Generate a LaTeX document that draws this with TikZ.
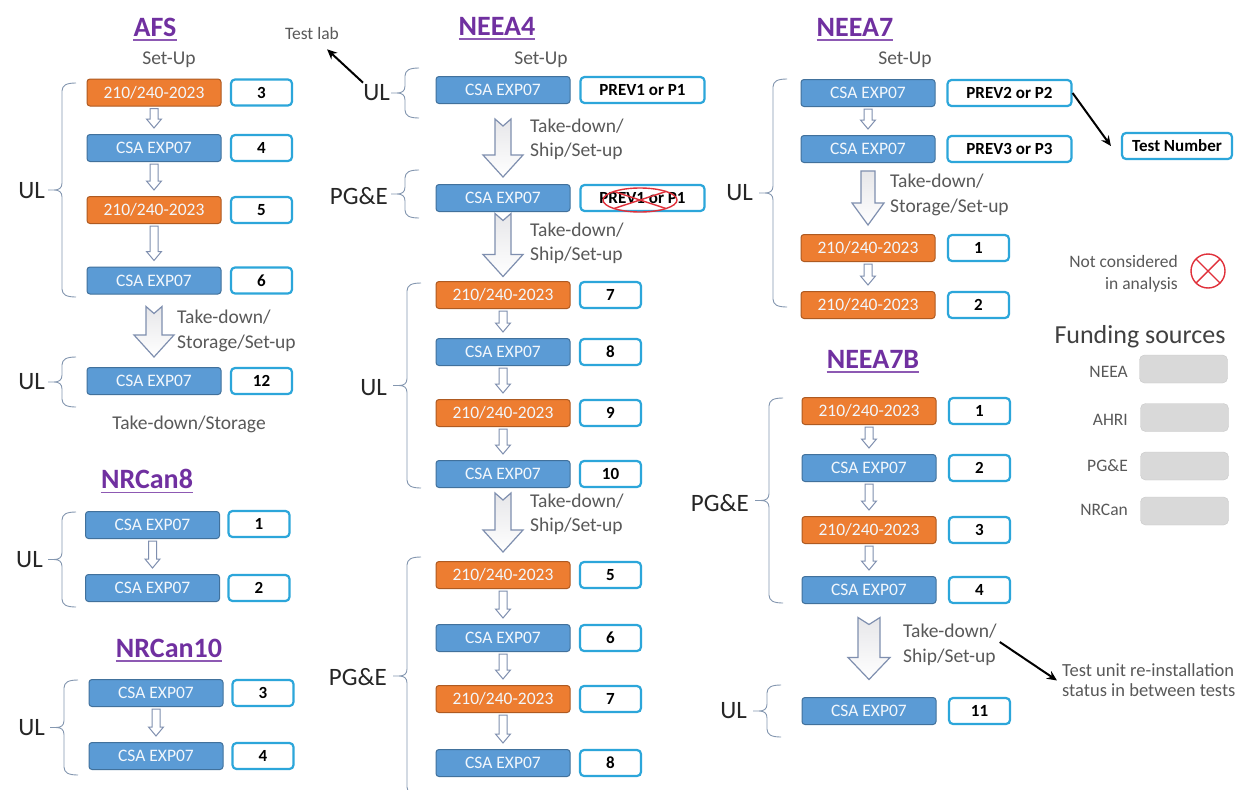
\documentclass[tikz,border=0pt]{standalone}
\usepackage{fontspec}
\setmainfont{Carlito}
\usetikzlibrary{calc,arrows.meta}
\definecolor{csafill}{HTML}{5B9BD5}
\definecolor{csaline}{HTML}{41719C}
\definecolor{orafill}{HTML}{ED7D31}
\definecolor{oraline}{HTML}{AE5A21}
\definecolor{numline}{HTML}{2CA6DA}
\definecolor{ttlc}{HTML}{7030A0}
\definecolor{gtxt}{HTML}{595959}
\definecolor{brcol}{HTML}{8497B0}
\definecolor{arrline}{HTML}{7F8FAF}
\definecolor{legfill}{HTML}{D9D9D9}
\definecolor{xred}{HTML}{E0303A}
\tikzset{
 box/.style={rounded corners=3pt, minimum width=134pt, minimum height=27pt, inner sep=0pt, text=white!92!csafill, font=\fontsize{17.5}{20}\selectfont, line width=1pt},
 csa/.style={box, draw=csaline, fill=csafill},
 ora/.style={box, draw=oraline, fill=orafill},
 num/.style={draw=numline, line width=2.2pt, fill=white, rounded corners=4pt, minimum width=61pt, minimum height=26pt, inner sep=0pt, font=\bfseries\fontsize{17}{20}\selectfont},
 prev/.style={num, minimum width=124pt},
 ttl/.style={text=ttlc, font=\bfseries\fontsize{28}{30}\selectfont, inner sep=0pt},
 ulin/.style={draw=ttlc!80, line width=1.3pt},
 gl/.style={text=gtxt, font=\fontsize{19.5}{24.5}\selectfont, inner sep=0pt, align=left},
 grp/.style={text=black!85, font=\fontsize{25}{28}\selectfont, inner sep=0pt},
 brcsty/.style={draw=brcol, line width=0.9pt},
 barrsty/.style={draw=arrline, line width=1.2pt, top color=blue!6!gray!18, bottom color=white},
 sarrsty/.style={draw=arrline, line width=1pt, fill=white},
 ptr/.style={draw=black, line width=2pt, -{Stealth[length=10pt,width=9pt]}},
 leg/.style={fill=legfill, draw=legfill!92!black, rounded corners=5pt, minimum width=88pt, minimum height=28pt},
 sm/.style={text=gtxt, font=\fontsize{17.5}{22}\selectfont, inner sep=0pt},
 xmark/.style={draw=xred, line width=1.4pt},
}
\newcommand\SmallArr[2]{\draw[sarrsty] let \p1=(#1.south), \p2=(#2.north) in
 (\x1-4pt,\y1-2pt) -- (\x1+4pt,\y1-2pt) -- (\x1+4pt,\y2+15pt) -- (\x1+7.5pt,\y2+15pt) -- (\x1,\y2+6pt) -- (\x1-7.5pt,\y2+15pt) -- (\x1-4pt,\y2+15pt) -- cycle;}
% #1 from, #2 to, #3 top gap, #4 bottom gap, #5 shaft half width, #6 head half width, #7 notch depth
\newcommand\BigArr[7]{\draw[barrsty] let \p1=(#1.south), \p2=(#2.north) in
 (\x1-#5,\y1-#3) -- (\x1,\y1-#3-#7) -- (\x1+#5,\y1-#3) -- (\x1+#5,\y2+#4+22pt) -- (\x1+#6,\y2+#4+22pt) -- (\x1,\y2+#4) -- (\x1-#6,\y2+#4+22pt) -- (\x1-#5,\y2+#4+22pt) -- cycle;}
% left curly brace from top coordinate #1 to bottom coordinate #2
\newcommand\Brc[2]{\draw[brcsty] let \p1=(#1), \p2=(#2), \n1={0.5*\y1+0.5*\y2} in
 (\x1,\y1) .. controls (\x1-9pt,\y1) and (\x1-14pt,\y1-2pt) .. (\x1-14pt,\y1-8pt)
 -- (\x1-14pt,\n1+7pt) .. controls (\x1-14pt,\n1+2pt) and (\x1-17pt,\n1) .. (\x1-22pt,\n1)
 -- (\x1-28pt,\n1) -- (\x1-22pt,\n1) .. controls (\x1-17pt,\n1) and (\x1-14pt,\n1-2pt) .. (\x1-14pt,\n1-7pt)
 -- (\x1-14pt,\y2+8pt) .. controls (\x1-14pt,\y2+2pt) and (\x1-9pt,\y2) .. (\x1,\y2);}
\newcommand\TitleUL[1]{\draw[ulin] ([yshift=-4pt]#1.base west) -- ([yshift=-4pt]#1.base east);}
\begin{document}
\begin{tikzpicture}[x=1pt,y=-1pt]
\fill[white] (0,0) rectangle (1240,790);
\useasboundingbox (0,0) rectangle (1240,790);

%%%%%%%%%%%%%%%% AFS
\node[ttl] (tafs) at (155,27) {AFS}; \TitleUL{tafs}
\node[gl] (safs) at (169,60) {Set-Up};
\node[sm] (tl) at (312,33) {Test lab};
\node[ora] (a1) at (154,92.5) {210/240-2023}; \node[num] (a1n) at (261.5,92.5) {3};
\node[csa] (a2) at (154,148) {CSA EXP07}; \node[num] (a2n) at (261.5,148) {4};
\node[ora] (a3) at (154,210) {210/240-2023}; \node[num] (a3n) at (261.5,210) {5};
\node[csa] (a4) at (154,280.5) {CSA EXP07}; \node[num] (a4n) at (261.5,280.5) {6};
\SmallArr{a1}{a2} \SmallArr{a2}{a3} \SmallArr{a3}{a4}
\coordinate (abT) at (76,83); \coordinate (abB) at (76,297);
\Brc{abT}{abB}
\node[grp, anchor=east] (aul) at (45,191) {UL};
\node[csa] (a5) at (154,381) {CSA EXP07}; \node[num] (a5n) at (261.5,381) {12};
\BigArr{a4}{a5}{12pt}{10pt}{8pt}{20pt}{7pt}
\node[gl, anchor=west] (atd) at (177,331) {Take-down/\\Storage/Set-up};
\coordinate (ab2T) at (76,357); \coordinate (ab2B) at (76,407);
\Brc{ab2T}{ab2B}
\node[grp, anchor=east] (aul2) at (45,382) {UL};
\node[gl] (atds) at (189,424) {Take-down/Storage};

%%%%%%%%%%%%%%%% NRCan8
\node[ttl] (tn8) at (147,479) {NRCan8}; \TitleUL{tn8}
\node[csa] (n1) at (152.5,525) {CSA EXP07}; \node[num] (n1n) at (259,524) {1};
\node[csa] (n2) at (152.5,588) {CSA EXP07}; \node[num] (n2n) at (259,588) {2};
\SmallArr{n1}{n2}
\coordinate (nbT) at (76,512); \coordinate (nbB) at (76,607);
\Brc{nbT}{nbB}
\node[grp, anchor=east] (nul) at (43,560) {UL};

%%%%%%%%%%%%%%%% NRCan10
\node[ttl] (tn10) at (169,648) {NRCan10}; \TitleUL{tn10}
\node[csa] (m1) at (156,693) {CSA EXP07}; \node[num] (m1n) at (263,693) {3};
\node[csa] (m2) at (156,756) {CSA EXP07}; \node[num] (m2n) at (263,756) {4};
\SmallArr{m1}{m2}
\coordinate (mbT) at (78,680); \coordinate (mbB) at (78,775);
\Brc{mbT}{mbB}
\node[grp, anchor=east] (mul) at (45,728) {UL};

%%%%%%%%%%%%%%%% NEEA4
\node[ttl] (tn4) at (497,26) {NEEA4}; \TitleUL{tn4}
\node[gl] (sn4) at (541,60) {Set-Up};
\node[csa] (u1) at (503,90) {CSA EXP07}; \node[prev] (u1n) at (642.5,90) {PREV1 or P1};
\coordinate (ub1T) at (419,68); \coordinate (ub1B) at (419,118);
\Brc{ub1T}{ub1B}
\node[grp, anchor=east] (n4ul) at (390,93) {UL};
\draw[ptr] ([xshift=0pt,yshift=2pt]n4ul.north west) -- ([xshift=-12pt,yshift=-10pt]tl.south east);
\node[csa] (u2) at (503,198) {CSA EXP07}; \node[prev] (u2n) at (642.5,198) {PREV1 or P1};
\draw[xmark] (640,200) ellipse [x radius=37pt, y radius=12pt];
\draw[xmark] (614,191.5) -- (666,208.5) (614,208.5) -- (666,191.5);
\BigArr{u1}{u2}{15pt}{7pt}{8pt}{20pt}{7pt}
\node[gl, anchor=west] (utd1) at (530,139.5) {Take-down/\\Ship/Set-up};
\coordinate (ub2T) at (419,170); \coordinate (ub2B) at (419,218);
\Brc{ub2T}{ub2B}
\node[grp, anchor=east] (n4pg) at (388,196) {PG\&E};
\node[ora] (u3) at (503,295) {210/240-2023}; \node[num] (u3n) at (610.5,295) {7};
\node[csa] (u4) at (503,352) {CSA EXP07}; \node[num] (u4n) at (610.5,352) {8};
\node[ora] (u5) at (503,413) {210/240-2023}; \node[num] (u5n) at (610.5,413) {9};
\node[csa] (u6) at (503,474) {CSA EXP07}; \node[num] (u6n) at (610.5,474) {10};
\BigArr{u2}{u3}{1.5pt}{4.5pt}{8pt}{20pt}{7pt}
\node[gl, anchor=west] (utd2) at (530,243.5) {Take-down/\\Ship/Set-up};
\SmallArr{u3}{u4} \SmallArr{u4}{u5} \SmallArr{u5}{u6}
\coordinate (ub3T) at (421,283); \coordinate (ub3B) at (421,488);
\Brc{ub3T}{ub3B}
\node[grp, anchor=east] (n4ul2) at (387,388) {UL};
\node[ora] (u7) at (503,575) {210/240-2023}; \node[num] (u7n) at (610.5,575) {5};
\node[csa] (u8) at (503,638) {CSA EXP07}; \node[num] (u8n) at (610.5,638) {6};
\node[ora] (u9) at (503,699) {210/240-2023}; \node[num] (u9n) at (610.5,699) {7};
\node[csa] (u10) at (503,763) {CSA EXP07}; \node[num] (u10n) at (610.5,763) {8};
\BigArr{u6}{u7}{5pt}{9pt}{8pt}{20pt}{7pt}
\node[gl, anchor=west] (utd3) at (530,514.5) {Take-down/\\Ship/Set-up};
\SmallArr{u7}{u8} \SmallArr{u8}{u9} \SmallArr{u9}{u10}
\coordinate (ub4T) at (421,557); \coordinate (ub4B) at (421,795);
\Brc{ub4T}{ub4B}
\node[grp, anchor=east] (n4pg2) at (387,677) {PG\&E};

%%%%%%%%%%%%%%%% NEEA7
\node[ttl] (tn7) at (855,27) {NEEA7}; \TitleUL{tn7}
\node[gl] (sn7) at (905,60) {Set-Up};
\node[csa] (v1) at (868,93) {CSA EXP07}; \node[prev] (p2) at (1009.5,93) {PREV2 or P2};
\node[csa] (v2) at (868,149) {CSA EXP07}; \node[prev] (p3) at (1009.5,149) {PREV3 or P3};
\node[num, minimum width=110pt] (tn) at (1177,146) {Test Number};
\draw[ptr] (p2.east) -- ([xshift=-10pt]tn.west);
\SmallArr{v1}{v2}
\node[ora] (v3) at (868,248) {210/240-2023}; \node[num] (v3n) at (978.5,248) {1};
\node[ora] (v4) at (868,305) {210/240-2023}; \node[num] (v4n) at (978.5,305) {2};
\BigArr{v2}{v3}{8pt}{9pt}{7pt}{16pt}{0pt}
\node[gl, anchor=west] (vtd) at (890,195) {Take-down/\\Storage/Set-up};
\SmallArr{v3}{v4}
\coordinate (vbT) at (787,79); \coordinate (vbB) at (787,307);
\Brc{vbT}{vbB}
\node[grp, anchor=east] (n7ul) at (753,193) {UL};

%%%%%%%%%%%%%%%% NEEA7B
\node[ttl] (tn7b) at (873,359) {NEEA7B}; \TitleUL{tn7b}
\node[ora] (w1) at (869,411) {210/240-2023}; \node[num] (w1n) at (979.5,411) {1};
\node[csa] (w2) at (869,468) {CSA EXP07}; \node[num] (w2n) at (979.5,468) {2};
\node[ora] (w3) at (869,530) {210/240-2023}; \node[num] (w3n) at (979.5,530) {3};
\node[csa] (w4) at (869,590) {CSA EXP07}; \node[num] (w4n) at (979.5,590) {4};
\SmallArr{w1}{w2} \SmallArr{w2}{w3} \SmallArr{w3}{w4}
\coordinate (wbT) at (783,398); \coordinate (wbB) at (783,603);
\Brc{wbT}{wbB}
\node[grp, anchor=east] (n7bpg) at (749,503) {PG\&E};
\node[csa] (w5) at (869,711) {CSA EXP07}; \node[num] (w5n) at (979.5,711) {11};
\BigArr{w4}{w5}{13.5pt}{17.5pt}{11pt}{21pt}{7pt}
\node[gl, anchor=west] (t7b) at (903,645) {Take-down/\\Ship/Set-up};
\coordinate (wb2T) at (781,685); \coordinate (wb2B) at (781,737);
\Brc{wb2T}{wb2B}
\node[grp, anchor=east] (n7bul) at (747,711) {UL};
\node[sm, anchor=west, align=left, font=\fontsize{18.5}{20}\selectfont] (tu) at (1062,680.5) {Test unit re-installation\\status in between tests};
\draw[ptr] ([xshift=3pt,yshift=3pt]t7b.east) -- ([xshift=-5pt]tu.west);

%%%%%%%%%%%%%%%% Legend
\node[sm, anchor=east, align=right] (nca) at (1178,274) {Not considered\\in analysis};
\draw[xmark] (1208,271) circle [radius=17pt];
\draw[xmark] (1196,259) -- (1220,283) (1196,283) -- (1220,259);
\node[text=black!75, font=\fontsize{26}{28}\selectfont, inner sep=0pt] (fs) at (1140,337) {Funding sources};
\node[sm, anchor=east] (lneea) at (1128,372) {NEEA};
\node[leg] (bneea) at (1183.5,369) {};
\node[sm, anchor=east] (lahri) at (1128,420) {AHRI};
\node[leg] (bahri) at (1184.5,417.5) {};
\node[sm, anchor=east] (lpge) at (1128,466) {PG\&E};
\node[leg] (bpge) at (1184.5,466) {};
\node[sm, anchor=east] (lnrc) at (1128,510) {NRCan};
\node[leg] (bnrc) at (1184.5,511) {};
\end{tikzpicture}
\end{document}
